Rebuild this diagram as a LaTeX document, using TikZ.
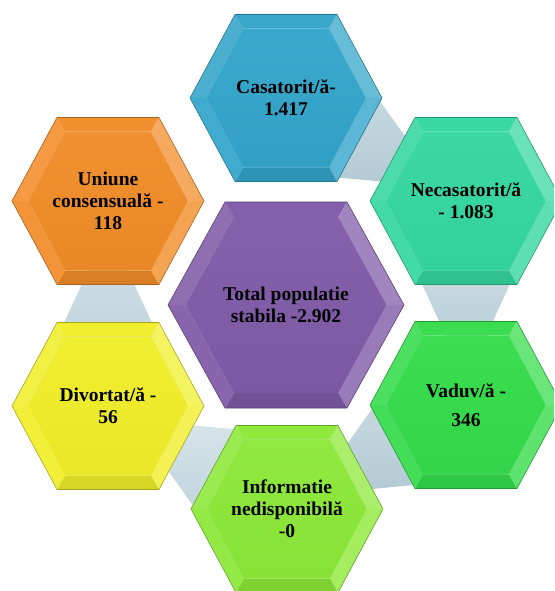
\documentclass[tikz,border=0pt]{standalone}
\usepackage{fontspec}
\setmainfont{Liberation Serif}
\usetikzlibrary{calc}

\definecolor{casatblue}{RGB}{50,165,202}
\definecolor{necasteal}{RGB}{52,215,160}
\definecolor{vaduvgreen}{RGB}{52,220,74}
\definecolor{infogreen}{RGB}{140,232,55}
\definecolor{divortyellow}{RGB}{240,238,40}
\definecolor{uniuneorange}{RGB}{241,140,40}
\definecolor{totalpurple}{RGB}{128,90,168}
\definecolor{linklight}{RGB}{214,228,234}
\definecolor{linkdark}{RGB}{178,202,212}

\tikzset{
  hexlabel/.style={font=\bfseries\fontsize{19.5}{22}\selectfont, align=center, text=black},
  linkfill/.style={top color=linklight, bottom color=linkdark},
}

% hexagon with bevel: name, centre x, centre y, half width, half height, half edge, bevel, colour
\newcommand{\hexcell}[8]{%
  \coordinate (#1) at (#2,#3);
  \pgfmathsetmacro{\hexia}{#4-1.155*#7}
  \pgfmathsetmacro{\hexib}{#5-#7}
  \pgfmathsetmacro{\hexic}{#6-0.577*#7}
  \coordinate (#1-o1) at ($(#1)+(-#4,0)$);
  \coordinate (#1-o2) at ($(#1)+(-#6,-#5)$);
  \coordinate (#1-o3) at ($(#1)+(#6,-#5)$);
  \coordinate (#1-o4) at ($(#1)+(#4,0)$);
  \coordinate (#1-o5) at ($(#1)+(#6,#5)$);
  \coordinate (#1-o6) at ($(#1)+(-#6,#5)$);
  \coordinate (#1-i1) at ($(#1)+(-\hexia,0)$);
  \coordinate (#1-i2) at ($(#1)+(-\hexic,-\hexib)$);
  \coordinate (#1-i3) at ($(#1)+(\hexic,-\hexib)$);
  \coordinate (#1-i4) at ($(#1)+(\hexia,0)$);
  \coordinate (#1-i5) at ($(#1)+(\hexic,\hexib)$);
  \coordinate (#1-i6) at ($(#1)+(-\hexic,\hexib)$);
  % bevel faces
  \fill[#8!88!white] (#1-o1) -- (#1-o2) -- (#1-i2) -- (#1-i1) -- cycle;
  \fill[#8!97!white] (#1-o2) -- (#1-o3) -- (#1-i3) -- (#1-i2) -- cycle;
  \fill[#8!74!white] (#1-o3) -- (#1-o4) -- (#1-i4) -- (#1-i3) -- cycle;
  \fill[#8!80!white] (#1-o4) -- (#1-o5) -- (#1-i5) -- (#1-i4) -- cycle;
  \fill[#8!90!black] (#1-o5) -- (#1-o6) -- (#1-i6) -- (#1-i5) -- cycle;
  \fill[#8!93!white] (#1-o6) -- (#1-o1) -- (#1-i1) -- (#1-i6) -- cycle;
  % front face
  \shade[top color=#8!96!white, bottom color=#8!97!black]
    (#1-i1) -- (#1-i2) -- (#1-i3) -- (#1-i4) -- (#1-i5) -- (#1-i6) -- cycle;
  \draw[#8!70!black, line width=0.6pt]
    (#1-o1) -- (#1-o2) -- (#1-o3) -- (#1-o4) -- (#1-o5) -- (#1-o6) -- cycle;
}

% grey link from one hexagon towards the next
\newcommand{\hexlink}[2]{%
  \path[linkfill] ($(#1)!82pt!90:(#2)$) -- ($(#1)!82pt!-90:(#2)$) -- ($(#1)!179pt!(#2)$) -- cycle;
}

\begin{document}
\begin{tikzpicture}[x=1pt,y=-1pt]

\useasboundingbox (0,0) rectangle (554,591);
\clip (0,0) rectangle (554,591);

% Centres of the hexagons
\coordinate (casat) at (286,98);
\coordinate (necas) at (466,201);
\coordinate (vaduv) at (466,405);
\coordinate (info) at (287,509);
\coordinate (divort) at (108,406);
\coordinate (uniune) at (108,201);

% Grey links round the ring
\hexlink{casat}{necas}
\hexlink{necas}{vaduv}
\hexlink{vaduv}{info}
\hexlink{info}{divort}
\hexlink{divort}{uniune}

% Outer hexagons
\hexcell{casat}{286}{98}{96}{83.5}{51}{14}{casatblue}
\hexcell{necas}{466}{201}{96}{83.5}{51}{14}{necasteal}
\hexcell{vaduv}{466}{405}{96}{83.5}{51}{14}{vaduvgreen}
\hexcell{info}{287}{509}{96}{83.5}{51}{14}{infogreen}
\hexcell{divort}{108}{406}{96}{83.5}{51}{14}{divortyellow}
\hexcell{uniune}{108}{201}{96}{83.5}{51}{14}{uniuneorange}

% Centre hexagon
\hexcell{total}{286}{305}{118}{103}{61}{15}{totalpurple}

% Labels
\node[hexlabel] (casat-text) at (casat) {Casatorit/ă-\\1.417};
\node[hexlabel] (necas-text) at (necas) {Necasatorit/ă\\- 1.083};
\node[hexlabel] (vaduv-text) at (vaduv) {Vaduv/ă -\\[7pt]346};
\node[hexlabel] (info-text) at (info) {Informatie\\nedisponibilă\\-0};
\node[hexlabel] (divort-text) at (divort) {Divortat/ă -\\56};
\node[hexlabel] (uniune-text) at (uniune) {Uniune\\consensuală -\\118};
\node[hexlabel] (total-text) at (total) {Total populatie\\stabila -2.902};

\end{tikzpicture}
\end{document}
